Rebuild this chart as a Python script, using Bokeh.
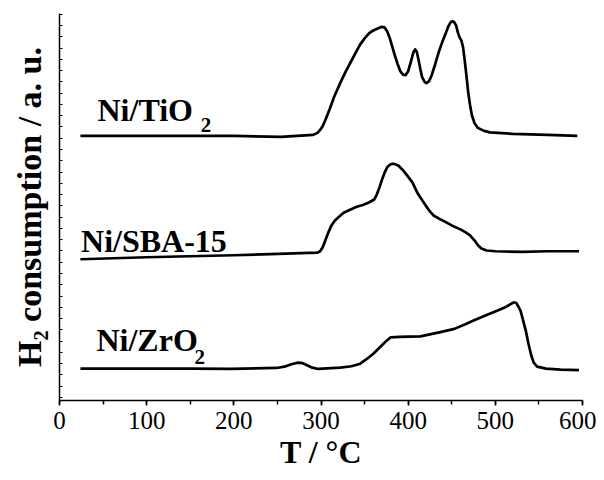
from bokeh.plotting import figure
from bokeh.models import Range1d, SingleIntervalTicker, FixedTicker
from bokeh.core.properties import value
from bokeh.embed import file_html
from bokeh.resources import INLINE

# ---- data (arbitrary units) ----
tio2_T = [24, 100, 200, 254, 291, 296, 299, 302, 305, 310, 315, 322, 328, 334, 340,
          345, 350, 355, 360, 365, 369, 373, 376, 379, 382, 385, 388, 391, 394, 397,
          400, 403, 406, 408, 410, 412, 414, 416, 419, 421, 424, 427, 431, 435, 439,
          443, 446, 449, 451, 453, 455, 457, 459, 461, 463, 465, 467, 469, 471, 473,
          476, 480, 487, 494, 520, 560, 594]
tio2_y = [266, 266, 266, 265, 267, 269, 272, 276, 282, 293, 305, 319, 330, 340, 350,
          358, 364, 369, 372, 374, 375.5, 375, 371, 364, 355, 346, 338, 331, 327.5, 327,
          331, 340, 350, 353, 350, 342, 333, 325, 320, 319, 321, 327, 338, 350, 360,
          369, 376, 380.5, 381.3, 380, 377, 370, 365, 362, 355, 341, 325, 309, 297, 287,
          279, 274, 271, 269.5, 268, 267, 266]

sba_T = [24, 100, 200, 296, 299, 302, 305, 308, 312, 316, 321, 326, 334, 341, 348,
         355, 361, 364, 367, 370, 373, 376, 379, 382, 385, 389, 394, 399, 405, 411,
         418, 424, 429, 435, 441, 450, 460, 466, 471, 476, 480, 484, 490, 500, 531,
         560, 596]
sba_y = [142, 144, 146, 148.6, 150, 154, 161, 168, 176, 181, 185, 188.7, 192, 194.7, 196.5,
         199, 202, 207, 214, 222, 229, 234.5, 237, 238, 237.6, 236, 231.5, 226, 219, 208,
         198.7, 191, 186, 183, 180.3, 176, 172, 169, 166, 161, 156, 152.7, 150.8, 150, 149.3,
         150, 150]

zro2_T = [24, 150, 197, 249, 258, 266, 273, 279, 284, 290, 297, 322, 335, 345, 353,
          360, 367, 374, 380, 390, 414, 437, 453, 465, 475, 490, 502, 512, 521, 524,
          526, 529, 532, 535, 538, 541, 544, 548, 558, 575, 596]
zro2_y = [32, 32, 31.7, 32.7, 34, 36.5, 38, 37.5, 35.5, 33, 31.7, 33, 34.4, 37, 42,
          47, 53, 59, 63.5, 64, 64.5, 68.7, 72, 76.5, 80.3, 86, 90.3, 94, 98.7, 98,
          95, 90, 80, 70, 57, 46, 38, 34, 32, 31, 30.5]

label_text = ["Ni/TiO", "Ni/SBA-15", "Ni/ZrO"]
label_x = [43.6, 24.7, 42.4]
label_y = [292, 160, 61]
sub_text = ["2", "2"]
sub_x = [162, 155]
sub_y = [277, 44]

x_ticks_interval = 100
FONT = "Liberation Serif"

p = figure(width=596, height=472, output_backend="svg", toolbar_location=None,
           x_range=Range1d(0, 600), y_range=Range1d(0, 389),
           min_border_left=59, min_border_right=14, min_border_top=13,
           min_border_bottom=70)
p.outline_line_color = None
p.xgrid.visible = False
p.ygrid.visible = False

for T, y in [(tio2_T, tio2_y), (sba_T, sba_y), (zro2_T, zro2_y)]:
    p.line(T, y, line_color="black", line_width=2.7, line_join="round")

p.text(x=label_x, y=label_y, text=label_text, text_font=value(FONT),
       text_font_style="bold", text_font_size="32px", text_baseline="alphabetic",
       text_align="left", text_color="black")
p.text(x=sub_x, y=sub_y, text=sub_text, text_font=value(FONT),
       text_font_style="bold", text_font_size="21px", text_baseline="alphabetic",
       text_align="left", text_color="black")

xa = p.xaxis[0]
xa.ticker = SingleIntervalTicker(interval=x_ticks_interval, num_minor_ticks=2)
xa.major_tick_out = 5
xa.major_tick_in = 0
xa.minor_tick_out = 4
xa.minor_tick_in = 0
xa.axis_line_width = 1.5
xa.axis_line_color = "black"
xa.major_tick_line_width = 1.5
xa.minor_tick_line_width = 1.5
xa.major_tick_line_color = "black"
xa.minor_tick_line_color = "black"
xa.major_label_text_font = FONT
xa.major_label_text_font_size = "25px"
xa.major_label_text_color = "black"
xa.major_label_standoff = 6
xa.axis_label = "T / °C"
xa.axis_label_text_font = FONT
xa.axis_label_text_font_style = "bold"
xa.axis_label_text_font_size = "32px"
xa.axis_label_text_color = "black"
xa.axis_label_standoff = 2

ya = p.yaxis[0]
ya.ticker = FixedTicker(ticks=[], minor_ticks=[3 + 11.33 * k for k in range(35)])
ya.major_tick_out = 0
ya.major_tick_in = 0
ya.minor_tick_out = 0
ya.minor_tick_in = 3
ya.minor_tick_line_color = "black"
ya.axis_line_width = 1.5
ya.axis_line_color = "black"
ya.major_label_standoff = 0
ya.axis_label = "H₂ consumption / a. u."
ya.axis_label_text_font = FONT
ya.axis_label_text_font_style = "bold"
ya.axis_label_text_font_size = "34px"
ya.axis_label_text_color = "black"
ya.axis_label_standoff = 12

open("out.html", "w").write(file_html(p, INLINE))
